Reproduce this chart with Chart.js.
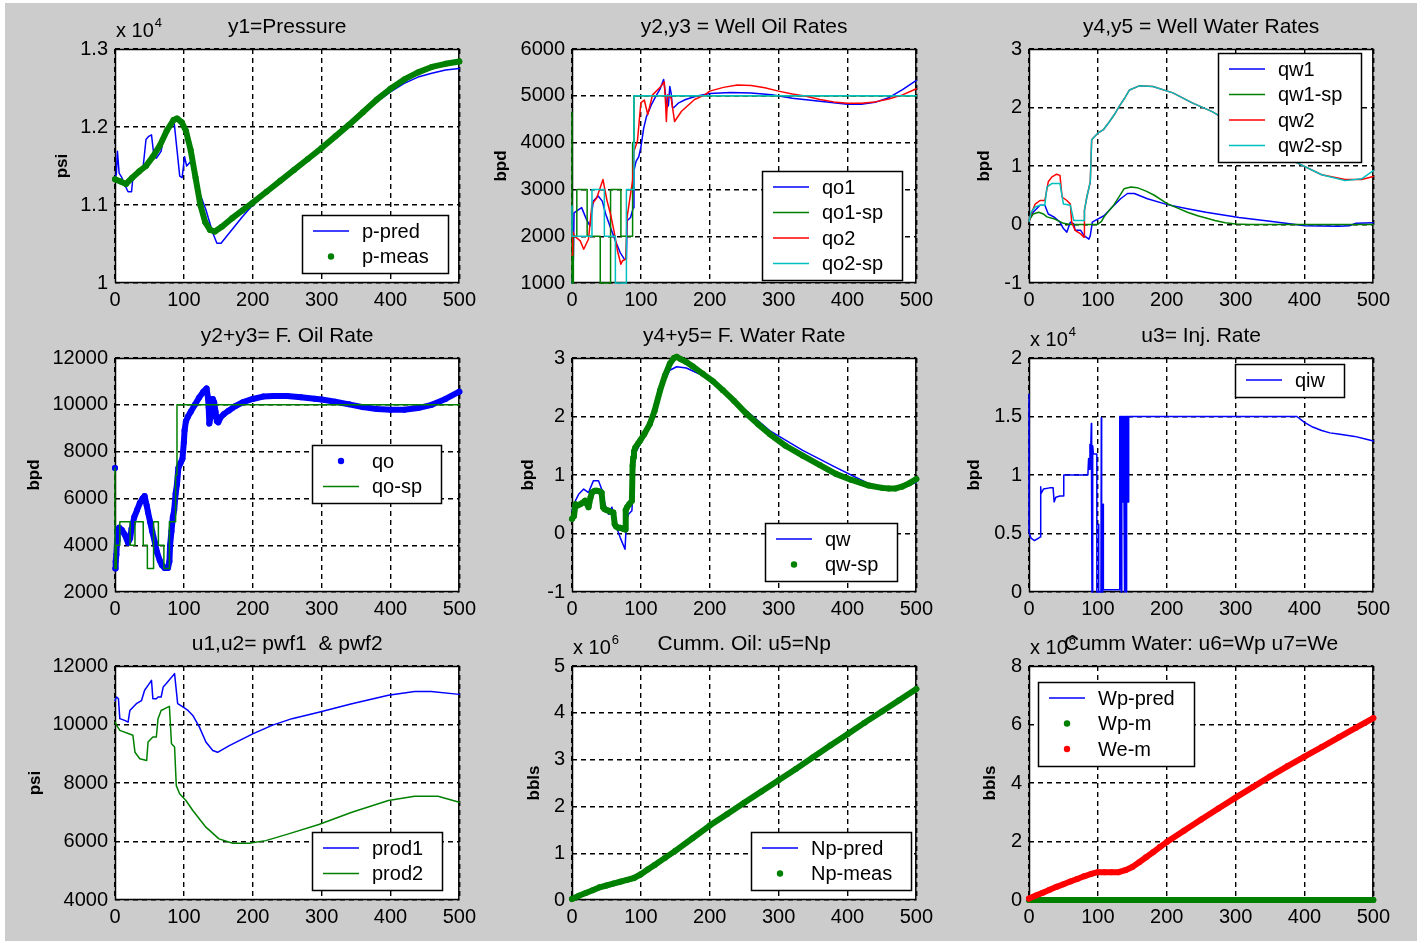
<!DOCTYPE html>
<html>
<head>
<meta charset="utf-8">
<script src="https://cdn.jsdelivr.net/npm/chart.js@4.4.0/dist/chart.umd.min.js"></script>
<style>
  body { margin: 0; background: #fff; width: 1424px; height: 943px; position: relative; overflow: hidden; }
  #fig { position: absolute; left: 5px; top: 3px; width: 1412px; height: 938px; background: #cccccc; }
  canvas { position: absolute; }
</style>
</head>
<body>
<div id="fig"></div>
<script>
// ---- time axis shared by every panel ----
const xTicks = [0, 100, 200, 300, 400, 500];

// y1 = pressure (x 1e4 psi)
const pPredT = [0,2,3.5,6,10,14,19,24,26,33,41,45,49,53,56,60,64,67,70,79,86,90,94,97.5,101,104,108,113,118,123,132,142,148,154,166,185,200,220,240,260,280,300,320,340,360,380,400,420,440,460,480,500];
const pPredV = [1.133,1.140,1.169,1.141,1.135,1.126,1.117,1.117,1.135,1.142,1.150,1.184,1.188,1.190,1.167,1.160,1.165,1.169,1.184,1.200,1.205,1.171,1.137,1.135,1.162,1.150,1.154,1.158,1.140,1.115,1.094,1.064,1.051,1.051,1.064,1.085,1.100,1.116,1.130,1.145,1.159,1.173,1.188,1.203,1.218,1.232,1.245,1.256,1.264,1.269,1.273,1.275];
const pMeasT = [0,8,16,25,35,45,55,65,75,85,90,97,103,110,117,124,131,138,145,155,170,185,200,220,240,260,280,300,320,340,360,380,400,420,440,460,480,500];
const pMeasV = [1.133,1.130,1.127,1.135,1.143,1.150,1.162,1.176,1.195,1.209,1.211,1.206,1.195,1.170,1.135,1.100,1.078,1.068,1.066,1.072,1.083,1.093,1.103,1.117,1.131,1.145,1.159,1.173,1.188,1.203,1.219,1.235,1.249,1.261,1.270,1.277,1.281,1.284];

// y2, y3 = well oil rates (bpd)
const qo1T = [0,0.5,2,3,7,14,21,26,31,38,44,49,56,63,70,76,79,80,85,89,90,93,97,100,104,108,115,122,128,133,136,138,140,142,144,146,148,155,165,180,200,230,260,290,320,350,380,400,420,440,460,480,500];
const qo1V = [1000,1000,1500,2500,2540,2610,2360,2220,2750,2860,2750,2470,2180,1900,1650,1510,1500,2330,2400,2610,3400,3600,3700,3900,4300,4550,4800,5000,5150,5350,5000,4750,4800,5200,5050,4750,4750,4850,4920,4990,5050,5070,5060,5020,4950,4900,4850,4820,4820,4860,4960,5130,5330];
const qo1SpT = [0,0,2,2,7,7,22,22,41,41,56,56,71,71,88,88,90,90,500];
const qo1SpV = [4650,1000,1000,2000,2000,3000,3000,2000,2000,1000,1000,3000,3000,2000,2000,4000,4000,5000,5000];
const qo2T = [0,1,4,12,17,24,29,36,45,51,56,61,66,71,73,78,80,85,88,90,95,100,105,110,117,129,134,136,137,139,144,149,159,178,193,200,220,240,260,280,300,320,340,360,380,400,420,440,460,480,500];
const qo2V = [1600,2100,2000,1900,1720,1940,2680,2820,3210,2750,2470,2110,1690,1400,1470,1510,2400,2900,3180,3820,4030,4850,4910,4600,5020,5200,5300,4800,4450,5020,4950,4450,4670,4920,5020,5100,5180,5230,5220,5170,5100,5040,4990,4920,4870,4840,4840,4870,4930,5020,5150];
const qo2SpT = [0,0,29,29,47,47,63,63,79,79,90,90,500];
const qo2SpV = [2650,2000,2000,3000,3000,2000,2000,1000,1000,3000,3000,5000,5000];

// y4, y5 = well water rates
const qw1T = [0,6,16,23,28,36,45,50,55,60,65,67,75,80,87,89,92,101,109,121,133,143,153,172,201,230,257,305,353,401,450,465,475,500];
const qw1V = [0.07,0.21,0.33,0.33,0.18,0.13,0.04,-0.07,-0.13,0.04,0.01,-0.10,-0.10,-0.19,-0.25,-0.19,0.04,0.10,0.15,0.30,0.44,0.53,0.53,0.44,0.34,0.27,0.21,0.12,0.05,-0.02,-0.03,-0.02,0.02,0.03];
const qw1SpT = [0,6,14,21,26,36,50,60,99,105,109,115,123,130,138,148,157,170,182,200,216,230,245,257,270,285,300,320,400,500];
const qw1SpV = [0.07,0.18,0.21,0.18,0.13,0.10,0.02,0,0,0.05,0.13,0.22,0.33,0.46,0.61,0.64,0.63,0.57,0.50,0.36,0.28,0.21,0.15,0.11,0.07,0.03,0.01,0,0,0];
const qw2T = [0,3,9,16,23,28,33,40,45,48,55,60,62,67,75,80,80.5,84,89,91,95,100,108,117,124,131,140,146,160,180,209,237,266,300,350,385,425,459,483,500];
const qw2V = [0.05,0.18,0.35,0.41,0.41,0.73,0.81,0.86,0.84,0.47,0.41,0.35,0.04,-0.10,-0.16,-0.22,0.24,0.47,0.73,1.45,1.50,1.56,1.62,1.76,1.88,2.02,2.18,2.30,2.37,2.36,2.25,2.08,1.93,1.69,1.36,1.08,0.85,0.77,0.77,0.82];
const qw2SpT = [0,3,9,16,23,26,33,45,50,60,65,80,80.5,84,89,91,95,100,108,117,124,131,140,146,160,180,209,237,266,300,350,385,425,459,483,500];
const qw2SpV = [0.05,0.21,0.30,0.33,0.33,0.64,0.70,0.70,0.35,0.33,0.07,0.07,0.24,0.47,0.73,1.45,1.50,1.56,1.62,1.76,1.88,2.02,2.18,2.30,2.37,2.36,2.25,2.08,1.93,1.69,1.36,1.08,0.85,0.75,0.78,0.92];

// y2 + y3 = field oil rate
const qoT = [0,0,0.5,1,2,3,4,6,10,14,19,22,24,28,32,36,40,43,46,48,51,54,58,61,65,68,72,77,79,80,82,84,86,88,90,92,95,98,100,101,103,106,110,116,122,128,133,135,136,137,139,140,142,144,146,148,150,153,158,165,175,185,200,215,230,250,270,290,300,320,340,360,380,400,420,440,460,480,500];
const qoV = [7300,null,3000,3300,3600,4200,4600,4750,4650,4460,4100,4300,4700,5200,5500,5800,6000,6100,5700,5400,5000,4600,4100,3700,3350,3150,3030,3030,3300,4000,4600,5200,5500,6200,6600,7300,7500,7700,8400,8900,9300,9500,9700,10000,10300,10550,10700,10300,9900,9200,9500,10000,10250,10100,9700,9300,9250,9450,9600,9750,9950,10100,10250,10350,10380,10380,10320,10260,10230,10130,10020,9900,9820,9790,9790,9860,10000,10250,10560];
const qoSpT = [0,0,2,2,7,7,22,22,29,29,41,41,47,47,56,56,63,63,71,71,79,79,88,88,90,90,500];
const qoSpV = [7300,3000,3000,4000,4000,5000,5000,4000,4000,5000,5000,4000,4000,3000,3000,5000,5000,4000,4000,3000,3000,5000,5000,7000,7000,10000,10000];

// y4 + y5 = field water rate
const qwT = [0,2.4,9.6,17,24,31,38.5,43,48,53,58,63,70,77,79,82,87,89,91.5,99,108,118,130,142,152,166,190,219,253,287,335,383,431,470,500];
const qwV = [0.39,0.50,0.67,0.76,0.70,0.90,0.90,0.76,0.50,0.33,0.45,0.16,-0.07,-0.27,0.20,0.33,0.39,0.85,1.36,1.53,1.70,2.10,2.50,2.79,2.85,2.83,2.70,2.45,2.10,1.76,1.42,1.13,0.85,0.76,0.87];
const qwSpT = [0,3,5,8,12,16,19,22,24,27,29,33,36,40,43,45,47,50,53,56,60,62,64,67,70,74,77,78,80,83,87,88,89,90,92,96,99,105,113,120,128,135,142,148,152,158,166,175,190,205,219,235,253,270,287,310,335,360,383,405,431,450,460,470,479,490,500];
const qwSpV = [0.25,0.30,0.50,0.48,0.50,0.53,0.56,0.50,0.45,0.62,0.70,0.73,0.73,0.72,0.70,0.45,0.42,0.40,0.39,0.37,0.36,0.16,0.12,0.10,0.10,0.08,0.07,0.40,0.45,0.50,0.56,1.16,1.30,1.40,1.47,1.54,1.59,1.70,1.87,2.10,2.45,2.70,2.90,3.00,3.02,2.98,2.93,2.86,2.73,2.60,2.45,2.27,2.05,1.87,1.70,1.50,1.33,1.17,1.02,0.92,0.82,0.78,0.77,0.77,0.80,0.86,0.93];

// u3 = injection rate (x 1e4 bpd)
const qiwT = [0,0,3,8,14,16,17,17.5,21,30,35,36.5,39,45,50.5,50.5,85.5,86.5,87.5,88.5,89.5,90.5,91,91.5,92.5,93.5,98.5,98.5,100.5,101,101.5,104.5,105,105.5,107,107.5,108,131.5,
  131.5,132,132.5,133,133.5,134,134.5,135,135.5,136,136.5,137,137.5,138,138.5,139,139.5,140,140.5,141,141.5,142,142.5,143,143.5,144,144.5,145,
  389,400,412,425,437,449,461,473,487,500];
const qiwV = [1.69,0.51,0.46,0.44,0.46,0.47,0.90,0.84,0.88,0.89,0.89,0.77,0.81,0.82,0.82,1.00,1.00,1.14,1.05,1.26,1.18,1.44,0.60,0,1.25,1.18,1.18,0,0,0.58,0,0,1.49,0,0,0.75,0.02,0.02,
  1.50,0.77,1.50,0.77,1.50,0,1.50,0.77,1.50,0.77,1.50,0.77,1.50,0.77,1.50,0,1.50,0.77,1.50,0,1.50,0.77,1.50,0.77,1.50,0.77,1.50,1.50,
  1.50,1.45,1.41,1.38,1.36,1.35,1.34,1.33,1.31,1.29];

// u1, u2 = bottom-hole pressures (psi)
const prod1T = [0,2.4,5,7,14,19,21.6,31,38.5,43,48,53,55,60,62.5,67,70,74.5,86.5,91,98.5,106,113,122.6,132,142,149,166,200,228,257,296,344,397,435,459,500];
const prod1V = [10820,10940,10880,10200,10140,10080,10480,10710,10820,11170,11340,11510,10880,10880,10940,10940,11280,11400,11740,10710,10600,10480,10310,9910,9400,9110,9050,9280,9680,9970,10200,10420,10710,11000,11130,11130,11030];
const prod2T = [0,2.4,7,26,29,36,46,48,55,60,62.5,67,74.5,79,82,86.5,89,93.8,103,113,132,151,171,195,219,252,296,344,397,435,469,500];
const prod2V = [10080,9970,9800,9630,9050,8830,8770,9400,9570,9570,10200,10480,10570,10620,9340,9230,7910,7630,7400,7060,6490,6090,5940,5940,6030,6260,6580,7000,7400,7550,7550,7340];

// u5 = cumulative oil (x 1e6 bbls)
const npT = [0,10,20,30,40,50,60,70,80,90,100,110,120,135,150,175,200,225,250,275,300,325,350,375,400,425,450,475,500];
const npV = [0.02,0.09,0.15,0.21,0.27,0.31,0.35,0.39,0.43,0.47,0.55,0.65,0.75,0.90,1.05,1.32,1.59,1.83,2.08,2.32,2.56,2.80,3.05,3.30,3.54,3.79,4.03,4.27,4.51];

// u6, u7 = cumulative water produced / injected (x 1e6 bbls)
const wpT = [0,50,100,150,200,250,300,350,400,450,500];
const wpV = [0,0,0,0,0,0,0,0,0,0,0];
const weT = [0,10,20,30,40,50,60,70,80,90,100,110,120,130,140,150,160,170,180,190,200,225,250,275,300,325,350,375,400,425,450,475,500];
const weV = [0.05,0.15,0.25,0.35,0.45,0.54,0.63,0.72,0.81,0.89,0.95,0.95,0.95,0.95,1.02,1.13,1.29,1.46,1.63,1.81,1.98,2.37,2.75,3.13,3.50,3.86,4.22,4.57,4.90,5.23,5.56,5.89,6.22];

// ---- drawing ----
const FONT = "'Liberation Sans', Arial, Helvetica, sans-serif";
const BLUE = '#0000ff', GREEN = '#008000', RED = '#ff0000', CYAN = '#00bfbf';

const panels = [
  { left: 115, top: 49, title: 'y1=Pressure', yTitle: 'psi', yGap: 53, exp: '4',
    yMin: 1, yMax: 1.3, yStep: 0.1, legendAt: [187, 166],
    series: [
      { label: 'p-pred', t: pPredT, v: pPredV, color: BLUE },
      { label: 'p-meas', t: pMeasT, v: pMeasV, color: GREEN, dots: true } ] },
  { left: 572, top: 49, title: 'y2,y3 = Well Oil Rates', yTitle: 'bpd', yGap: 71,
    yMin: 1000, yMax: 6000, yStep: 1000, legendAt: [190, 122],
    series: [
      { label: 'qo1', t: qo1T, v: qo1V, color: BLUE },
      { label: 'qo1-sp', t: qo1SpT, v: qo1SpV, color: GREEN },
      { label: 'qo2', t: qo2T, v: qo2V, color: RED },
      { label: 'qo2-sp', t: qo2SpT, v: qo2SpV, color: CYAN } ] },
  { left: 1029, top: 49, title: 'y4,y5 = Well Water Rates', yTitle: 'bpd', yGap: 45,
    yMin: -1, yMax: 3, yStep: 1, legendAt: [189, 4],
    series: [
      { label: 'qw1', t: qw1T, v: qw1V, color: BLUE },
      { label: 'qw1-sp', t: qw1SpT, v: qw1SpV, color: GREEN },
      { label: 'qw2', t: qw2T, v: qw2V, color: RED },
      { label: 'qw2-sp', t: qw2SpT, v: qw2SpV, color: CYAN } ] },
  { left: 115, top: 358, title: 'y2+y3= F. Oil Rate', yTitle: 'bpd', yGap: 81,
    yMin: 2000, yMax: 12000, yStep: 2000, legendAt: [197, 87],
    series: [
      { label: 'qo', t: qoT, v: qoV, color: BLUE, dots: true },
      { label: 'qo-sp', t: qoSpT, v: qoSpV, color: GREEN } ] },
  { left: 572, top: 358, title: 'y4+y5= F. Water Rate', yTitle: 'bpd', yGap: 44,
    yMin: -1, yMax: 3, yStep: 1, legendAt: [193, 165],
    series: [
      { label: 'qw', t: qwT, v: qwV, color: BLUE },
      { label: 'qw-sp', t: qwSpT, v: qwSpV, color: GREEN, dots: true } ] },
  { left: 1029, top: 358, title: 'u3= Inj. Rate', yTitle: 'bpd', yGap: 55, exp: '4',
    yMin: 0, yMax: 2, yStep: 0.5, legendAt: [206, 6],
    series: [
      { label: 'qiw', t: qiwT, v: qiwV, color: BLUE } ] },
  { left: 115, top: 666, title: 'u1,u2= pwf1  & pwf2', yTitle: 'psi', yGap: 80,
    yMin: 4000, yMax: 12000, yStep: 2000, legendAt: [197, 166],
    series: [
      { label: 'prod1', t: prod1T, v: prod1V, color: BLUE },
      { label: 'prod2', t: prod2T, v: prod2V, color: GREEN } ] },
  { left: 572, top: 666, title: 'Cumm. Oil: u5=Np', yTitle: 'bbls', yGap: 38, exp: '6',
    yMin: 0, yMax: 5, yStep: 1, legendAt: [179, 166],
    series: [
      { label: 'Np-pred', t: npT, v: npV, color: BLUE },
      { label: 'Np-meas', t: npT, v: npV, color: GREEN, dots: true } ] },
  { left: 1029, top: 666, title: 'Cumm Water: u6=Wp u7=We', yTitle: 'bbls', yGap: 39, exp: '6',
    yMin: 0, yMax: 8, yStep: 2, legendAt: [9, 16],
    series: [
      { label: 'Wp-pred', t: wpT, v: wpV, color: BLUE },
      { label: 'Wp-m', t: wpT, v: wpV, color: GREEN, dots: true },
      { label: 'We-m', t: weT, v: weV, color: RED, dots: true } ] }
];

const PAD_L = 100, PAD_T = 48, PAD_R = 20, X_H = 28, AREA_W = 346, AREA_H = 234;

function pts(t, v) {
  return t.map((x, i) => ({ x: x, y: v[i] }));
}

function fmt(v) {
  return String(Math.round(v * 1000) / 1000);
}

function makeFrame(p) {
  return {
    id: 'frame',
    beforeDraw(chart) {
      const a = chart.chartArea, c = chart.ctx;
      c.save();
      c.fillStyle = '#fff';
      c.fillRect(a.left, a.top, a.right - a.left, a.bottom - a.top);
      c.restore();
    },
    beforeDatasetsDraw(chart) {
      const a = chart.chartArea, c = chart.ctx;
      c.save();
      c.strokeStyle = '#000';
      c.lineWidth = 1.5;
      c.strokeRect(a.left + 0.5, a.top + 0.5, a.right - a.left - 1, a.bottom - a.top - 1);
      c.restore();
    },
    afterDraw(chart) {
      const a = chart.chartArea, c = chart.ctx;
      c.save();
      c.fillStyle = '#000';
      // title
      c.font = '21px ' + FONT;
      c.textAlign = 'center';
      c.textBaseline = 'alphabetic';
      c.fillText(p.title, (a.left + a.right) / 2, a.top - 16);
      // exponent above the y axis
      if (p.exp) {
        c.font = '20px ' + FONT;
        c.textAlign = 'left';
        c.fillText('x 10', a.left + 1, a.top - 12);
        const w = c.measureText('x 10').width;
        c.font = '13px ' + FONT;
        c.fillText(p.exp, a.left + 2 + w, a.top - 22);
      }
      // y label
      c.save();
      c.translate(a.left - p.yGap, (a.top + a.bottom) / 2);
      c.rotate(-Math.PI / 2);
      c.font = 'bold 17px ' + FONT;
      c.textAlign = 'center';
      c.textBaseline = 'middle';
      c.fillText(p.yTitle, 0, 0);
      c.restore();
      // legend box
      c.font = '20px ' + FONT;
      let tw = 0;
      p.series.forEach(s => { tw = Math.max(tw, c.measureText(s.label).width); });
      const bx = a.left + p.legendAt[0], by = a.top + p.legendAt[1];
      const bw = Math.round(60 + tw + 19), bh = Math.round(p.series.length * 25.5 + 7);
      c.fillStyle = '#fff';
      c.fillRect(bx, by, bw, bh);
      c.strokeStyle = '#000';
      c.lineWidth = 1.5;
      c.strokeRect(bx + 0.5, by + 0.5, bw, bh);
      p.series.forEach((s, i) => {
        const cy = by + 16 + i * 25.5;
        if (s.dots) {
          c.fillStyle = s.color;
          c.beginPath();
          c.arc(bx + 29, cy, 3.2, 0, Math.PI * 2);
          c.fill();
        } else {
          c.strokeStyle = s.color;
          c.lineWidth = 1.5;
          c.beginPath();
          c.moveTo(bx + 11, cy);
          c.lineTo(bx + 47, cy);
          c.stroke();
        }
        c.fillStyle = '#000';
        c.textAlign = 'left';
        c.textBaseline = 'middle';
        c.fillText(s.label, bx + 60, cy + 1);
      });
      c.restore();
    }
  };
}

panels.forEach(p => {
  const cv = document.createElement('canvas');
  cv.width = PAD_L + AREA_W + PAD_R;
  cv.height = PAD_T + AREA_H + X_H;
  cv.style.left = (p.left - PAD_L) + 'px';
  cv.style.top = (p.top - PAD_T) + 'px';
  document.body.appendChild(cv);

  const datasets = p.series.map((s, i) => ({
    label: s.label,
    data: pts(s.t, s.v),
    borderColor: s.color,
    backgroundColor: s.color,
    borderWidth: s.dots ? 6 : 1.5,
    pointRadius: s.dots ? 3 : 0,
    pointBorderWidth: 0,
    pointBackgroundColor: s.color,
    pointHoverRadius: 0,
    borderCapStyle: 'round',
    borderJoinStyle: 'round',
    spanGaps: false,
    fill: false,
    tension: 0,
    clip: s.dots ? false : 2,
    order: -i
  }));

  const tickFont = { family: FONT, size: 20 };
  const gridOpts = { color: '#000', lineWidth: 1.4, drawTicks: false };
  new Chart(cv.getContext('2d'), {
    type: 'line',
    data: { datasets: datasets },
    options: {
      responsive: false,
      animation: false,
      devicePixelRatio: 1,
      events: [],
      layout: { padding: { left: 0, top: PAD_T, right: PAD_R, bottom: 0 } },
      plugins: { legend: { display: false }, title: { display: false }, tooltip: { enabled: false } },
      scales: {
        x: {
          type: 'linear', min: xTicks[0], max: xTicks[xTicks.length - 1],
          afterFit: s => { s.height = X_H; },
          afterBuildTicks: s => { s.ticks = xTicks.map(v => ({ value: v })); },
          ticks: { color: '#000', font: tickFont, padding: 5, maxRotation: 0, autoSkip: false, callback: fmt },
          grid: gridOpts,
          border: { display: false, dash: [5, 4] }
        },
        y: {
          type: 'linear', min: p.yMin, max: p.yMax,
          afterFit: s => { s.width = PAD_L; },
          ticks: { stepSize: p.yStep, color: '#000', font: tickFont, padding: 7, autoSkip: false, callback: fmt },
          grid: gridOpts,
          border: { display: false, dash: [5, 4] }
        }
      }
    },
    plugins: [makeFrame(p)]
  });
});
</script>
</body>
</html>
